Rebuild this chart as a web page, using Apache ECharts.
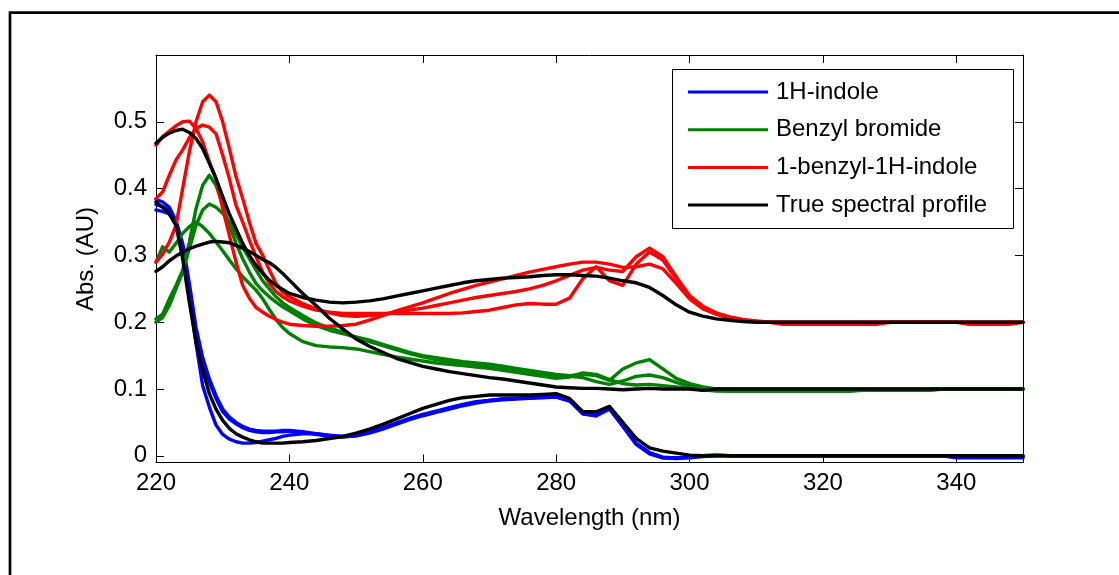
<!DOCTYPE html>
<html>
<head>
<meta charset="utf-8">
<script src="https://cdn.jsdelivr.net/npm/echarts@6/dist/echarts.min.js"></script>
<style>
  html, body { margin: 0; padding: 0; background: #ffffff; }
  #chart { width: 1119px; height: 575px; }
</style>
</head>
<body>
<div id="chart"></div>
<script>
// Wavelength grid (nm): 1 nm steps up to 240, 2 nm steps afterwards
const wavelength = [
  220,221,222,223,224,225,226,227,228,229,230,231,232,233,234,235,236,237,238,239,240,
  242,244,246,248,250,252,254,256,258,260,262,264,266,268,270,272,274,276,278,280,
  282,284,286,288,290,292,294,296,298,300,302,304,306,308,310,
  312,314,316,318,320,322,324,326,328,330,332,334,336,338,340,342,344,346,348,350
];

// 1H-indole, resolved profiles (no offset)
const indoleRunA = [
  0.384,0.380,0.372,0.352,0.318,0.258,0.192,0.147,0.115,0.090,0.070,0.058,0.050,0.044,0.040,0.038,0.037,0.037,0.037,0.038,0.038,
  0.036,0.033,0.030,0.029,0.030,0.035,0.041,0.048,0.055,0.061,0.066,0.071,0.076,0.080,0.083,0.085,0.086,0.087,0.088,0.089,
  0.083,0.064,0.061,0.071,0.046,0.019,0.005,-0.002,-0.003,-0.002,0.000,0.001,0.000,0.000,0.000,
  0,0,0,0,0,0,0,0,0,0,0,0,0,0,-0.003,-0.003,-0.003,-0.003,-0.003,-0.003
];
const indoleRunB = [
  0.376,0.373,0.367,0.350,0.312,0.250,0.186,0.142,0.110,0.086,0.066,0.055,0.048,0.042,0.038,0.036,0.035,0.035,0.036,0.036,0.037,
  0.035,0.032,0.029,0.028,0.030,0.034,0.040,0.047,0.054,0.060,0.065,0.070,0.075,0.079,0.082,0.084,0.085,0.086,0.087,0.088,
  0.082,0.063,0.060,0.070,0.044,0.017,0.003,-0.003,-0.004,-0.003,-0.001,0.000,0.000,0.000,0.000,
  0,0,0,0,0,0,0,0,0,0,0,0,0,0,-0.002,-0.002,-0.002,-0.002,-0.002,-0.002
];
const indoleRunC = [
  0.368,0.366,0.362,0.346,0.308,0.242,0.168,0.105,0.073,0.046,0.032,0.025,0.021,0.019,0.019,0.020,0.022,0.024,0.026,0.029,0.031,
  0.033,0.033,0.031,0.029,0.031,0.036,0.042,0.049,0.056,0.062,0.067,0.072,0.077,0.081,0.083,0.085,0.086,0.087,0.088,0.089,
  0.083,0.063,0.060,0.071,0.045,0.018,0.004,-0.003,-0.003,-0.002,0.000,0.001,0.000,0.000,0.000,
  0,0,0,0,0,0,0,0,0,0,0,0,0,0,0,0,0,0,0,0
];

// Benzyl bromide, resolved profiles (offset +0.1)
const bromideRunA = [
  0.205,0.212,0.235,0.255,0.278,0.320,0.370,0.405,0.420,0.405,0.375,0.345,0.318,0.295,0.275,0.258,0.247,0.238,0.230,0.223,0.217,
  0.205,0.195,0.188,0.183,0.178,0.173,0.167,0.161,0.155,0.150,0.147,0.144,0.141,0.139,0.137,0.134,0.131,0.128,0.125,0.122,
  0.120,0.122,0.120,0.113,0.130,0.139,0.144,0.130,0.116,0.108,0.103,0.100,0.100,0.100,0.100,
  0.1,0.1,0.1,0.1,0.1,0.1,0.1,0.1,0.1,0.1,0.1,0.1,0.1,0.1,0.1,0.1,0.1,0.1,0.1,0.1
];
const bromideRunB = [
  0.200,0.207,0.225,0.250,0.275,0.310,0.345,0.368,0.377,0.372,0.363,0.350,0.332,0.312,0.295,0.278,0.262,0.250,0.238,0.229,0.222,
  0.210,0.199,0.191,0.185,0.176,0.171,0.165,0.159,0.153,0.148,0.144,0.141,0.138,0.135,0.133,0.130,0.127,0.124,0.121,0.118,
  0.119,0.117,0.111,0.107,0.112,0.119,0.121,0.117,0.110,0.104,0.100,0.098,0.097,0.097,0.097,
  0.097,0.097,0.097,0.097,0.097,0.097,0.097,0.099,0.099,0.099,0.099,0.099,0.099,0.1,0.1,0.1,0.1,0.1,0.1,0.1
];
const bromideRunC = [
  0.290,0.313,0.305,0.318,0.333,0.343,0.350,0.343,0.333,0.320,0.307,0.293,0.280,0.268,0.258,0.248,0.235,0.219,0.204,0.192,0.183,
  0.171,0.165,0.163,0.162,0.160,0.156,0.152,0.148,0.145,0.142,0.139,0.137,0.135,0.133,0.131,0.128,0.125,0.122,0.119,0.116,
  0.118,0.124,0.122,0.114,0.108,0.106,0.107,0.105,0.103,0.101,0.099,0.097,0.097,0.097,0.097,
  0.097,0.097,0.097,0.097,0.097,0.097,0.097,0.098,0.098,0.098,0.098,0.098,0.098,0.1,0.1,0.1,0.1,0.1,0.1,0.1
];

// 1-benzyl-1H-indole, resolved profiles (offset +0.2)
const benzylIndoleRunA = [
  0.465,0.478,0.486,0.494,0.500,0.501,0.490,0.470,0.440,0.415,0.370,0.330,0.290,0.255,0.236,0.222,0.215,0.209,0.204,0.200,0.197,
  0.195,0.194,0.194,0.195,0.197,0.203,0.210,0.217,0.223,0.229,0.236,0.243,0.249,0.255,0.260,0.265,0.270,0.275,0.279,0.283,
  0.287,0.290,0.290,0.287,0.282,0.283,0.287,0.280,0.258,0.235,0.220,0.212,0.206,0.203,0.201,
  0.2,0.2,0.2,0.2,0.2,0.2,0.2,0.2,0.2,0.2,0.2,0.2,0.2,0.2,0.2,0.197,0.197,0.197,0.197,0.2
];
const benzylIndoleRunB = [
  0.385,0.395,0.420,0.443,0.458,0.476,0.490,0.495,0.492,0.482,0.450,0.415,0.375,0.350,0.323,0.298,0.275,0.258,0.246,0.238,0.232,
  0.224,0.218,0.215,0.213,0.213,0.213,0.213,0.213,0.213,0.213,0.213,0.213,0.214,0.216,0.218,0.222,0.226,0.228,0.227,0.227,
  0.236,0.265,0.283,0.262,0.255,0.287,0.305,0.293,0.265,0.238,0.222,0.212,0.207,0.203,0.201,
  0.2,0.197,0.197,0.197,0.197,0.197,0.197,0.197,0.197,0.2,0.2,0.2,0.2,0.2,0.2,0.2,0.2,0.2,0.2,0.2
];
const benzylIndoleRunC = [
  0.290,0.302,0.320,0.345,0.400,0.455,0.500,0.530,0.540,0.530,0.500,0.460,0.418,0.385,0.350,0.318,0.300,0.278,0.258,0.245,0.238,
  0.228,0.220,0.214,0.210,0.209,0.210,0.212,0.215,0.218,0.221,0.225,0.229,0.233,0.237,0.240,0.243,0.246,0.250,0.255,0.262,
  0.270,0.278,0.282,0.278,0.276,0.298,0.311,0.298,0.268,0.240,0.224,0.214,0.208,0.204,0.202,
  0.2,0.2,0.2,0.2,0.2,0.2,0.2,0.2,0.2,0.2,0.2,0.2,0.2,0.2,0.2,0.2,0.2,0.2,0.2,0.2
];

// True spectral profiles (offsets 0, +0.1, +0.2)
const trueIndole = [
  0.380,0.372,0.362,0.345,0.295,0.230,0.170,0.128,0.093,0.070,0.053,0.041,0.033,0.028,0.024,0.021,0.019,0.019,0.019,0.019,0.020,
  0.021,0.023,0.026,0.029,0.034,0.040,0.047,0.055,0.063,0.071,0.077,0.083,0.087,0.089,0.091,0.091,0.091,0.091,0.092,0.093,
  0.086,0.066,0.066,0.074,0.050,0.026,0.012,0.007,0.004,0.001,0.000,0.000,0.000,0.000,0.000,
  0,0,0,0,0,0,0,0,0,0,0,0,0,0,0,0,0,0,0,0
];
const trueBromide = [
  0.276,0.283,0.292,0.299,0.305,0.310,0.314,0.317,0.320,0.321,0.320,0.319,0.315,0.311,0.306,0.300,0.294,0.289,0.282,0.273,0.263,
  0.243,0.225,0.206,0.190,0.175,0.164,0.155,0.146,0.140,0.134,0.130,0.126,0.123,0.120,0.117,0.115,0.112,0.109,0.106,0.103,
  0.102,0.101,0.101,0.100,0.099,0.100,0.101,0.100,0.100,0.100,0.098,0.100,0.100,0.100,0.100,
  0.1,0.1,0.1,0.1,0.1,0.1,0.1,0.1,0.1,0.1,0.1,0.1,0.1,0.1,0.1,0.1,0.1,0.1,0.1,0.1
];
const trueBenzylIndole = [
  0.468,0.477,0.483,0.487,0.489,0.484,0.475,0.460,0.438,0.415,0.388,0.362,0.340,0.318,0.300,0.285,0.273,0.263,0.255,0.249,0.243,
  0.237,0.233,0.230,0.229,0.230,0.232,0.235,0.239,0.243,0.247,0.251,0.255,0.259,0.262,0.264,0.266,0.267,0.268,0.270,0.271,
  0.271,0.270,0.269,0.266,0.262,0.259,0.252,0.240,0.226,0.215,0.209,0.205,0.203,0.201,0.200,
  0.2,0.2,0.2,0.2,0.2,0.2,0.2,0.2,0.2,0.2,0.2,0.2,0.2,0.2,0.2,0.2,0.2,0.2,0.2,0.2
];

// Axis ticks and labels
const xTicks = [220, 240, 260, 280, 300, 320, 340];
const yTicks = [0, 0.1, 0.2, 0.3, 0.4, 0.5];
const yTickLabels = ['0', '0.1', '0.2', '0.3', '0.4', '0.5'];

const FONT = '"Liberation Sans", Arial, Helvetica, sans-serif';

const groups = [
  { name: '1H-indole', color: '#0000ff', runs: [indoleRunA, indoleRunB, indoleRunC] },
  { name: 'Benzyl bromide', color: '#008000', runs: [bromideRunA, bromideRunB, bromideRunC] },
  { name: '1-benzyl-1H-indole', color: '#ff0000', runs: [benzylIndoleRunA, benzylIndoleRunB, benzylIndoleRunC] },
  { name: 'True spectral profile', color: '#000000', runs: [trueIndole, trueBromide, trueBenzylIndole] }
];

function toPoints(values) {
  return wavelength.map((w, i) => [w, values[i]]);
}

const series = [];
groups.forEach(g => {
  g.runs.forEach(run => {
    series.push({
      name: g.name,
      type: 'line',
      data: toPoints(run),
      showSymbol: false,
      symbol: 'none',
      smooth: false,
      silent: true,
      clip: true,
      color: g.color,
      lineStyle: { color: g.color, width: 3.4, join: 'round', cap: 'round' }
    });
  });
});

const axisLineStyle = { show: true, onZero: false, lineStyle: { color: '#000', width: 1 } };
const tickStyle = { color: '#000', width: 1 };

const xAxisBase = {
  type: 'value', min: 220, max: 350,
  axisLine: axisLineStyle,
  splitLine: { show: false },
  axisTick: { show: true, inside: true, length: 8, customValues: xTicks, lineStyle: tickStyle }
};
const yAxisBase = {
  type: 'value', min: -0.01, max: 0.6,
  axisLine: axisLineStyle,
  splitLine: { show: false },
  axisTick: { show: true, inside: true, length: 8, customValues: yTicks, lineStyle: tickStyle }
};

const option = {
  backgroundColor: '#ffffff',
  animation: false,
  grid: { left: 156, top: 55, width: 867, height: 407.5, outerBoundsMode: 'none', show: false },
  xAxis: [
    Object.assign({}, xAxisBase, {
      position: 'bottom',
      axisLabel: { customValues: xTicks, margin: 9, color: '#000', fontSize: 24, fontFamily: FONT }
    }),
    Object.assign({}, xAxisBase, { position: 'top', axisLabel: { show: false } })
  ],
  yAxis: [
    Object.assign({}, yAxisBase, {
      position: 'left',
      axisLabel: {
        customValues: yTicks, margin: 9, color: '#000', fontSize: 24, fontFamily: FONT,
        formatter: v => {
          const i = yTicks.findIndex(t => Math.abs(t - v) < 1e-9);
          return i >= 0 ? yTickLabels[i] : '';
        }
      }
    }),
    Object.assign({}, yAxisBase, { position: 'right', axisLabel: { show: false } })
  ],
  legend: {
    data: groups.map(g => g.name),
    orient: 'vertical',
    left: 688, top: 80,
    padding: 0,
    itemWidth: 80, itemHeight: 3, itemGap: 13.7,
    icon: 'rect',
    selectedMode: false,
    textStyle: { fontSize: 24, fontFamily: FONT, color: '#000', padding: [0, 0, 0, 3] }
  },
  graphic: [
    // figure frame
    { type: 'polyline', silent: true, z: 0,
      shape: { points: [[10, 575], [10, 12.7], [1119, 12.7]] },
      style: { stroke: '#000', lineWidth: 2.7, fill: null } },
    // legend box
    { type: 'rect', silent: true, z: 3,
      shape: { x: 672.5, y: 69.5, width: 341, height: 159 },
      style: { fill: '#ffffff', stroke: '#000', lineWidth: 1 } },
    // axis titles
    { type: 'text', silent: true, z: 5, x: 589.5, y: 518,
      style: { text: 'Wavelength (nm)', font: '24px ' + FONT, fill: '#000', align: 'center', verticalAlign: 'middle' } },
    { type: 'text', silent: true, z: 5, x: 86, y: 259, rotation: Math.PI / 2,
      style: { text: 'Abs. (AU)', font: '24px ' + FONT, fill: '#000', align: 'center', verticalAlign: 'middle' } }
  ],
  series: series
};

const chart = echarts.init(document.getElementById('chart'), null, { renderer: 'canvas' });
chart.setOption(option);
</script>
</body>
</html>
